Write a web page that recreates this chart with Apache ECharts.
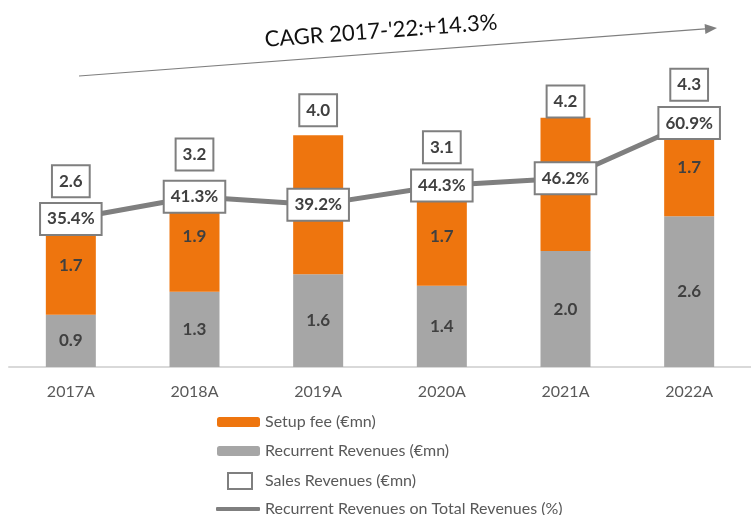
<!DOCTYPE html>
<html>
<head>
<meta charset="utf-8">
<script src="https://cdn.jsdelivr.net/npm/echarts@6/dist/echarts.min.js"></script>
<style>
  html, body { margin: 0; padding: 0; background: #fff; }
  #chart { width: 751px; height: 515px; }
</style>
</head>
<body>
<div id="chart"></div>
<script>
var years = ['2017A', '2018A', '2019A', '2020A', '2021A', '2022A'];
var recurrent = [0.9, 1.3, 1.6, 1.4, 2.0, 2.6];
var setupFee = [1.7, 1.9, 2.4, 1.7, 2.3, 1.7];
var salesTotal = [2.6, 3.2, 4.0, 3.1, 4.2, 4.3];
var recurrentShare = [35.4, 41.3, 39.2, 44.3, 46.2, 60.9];
var cagrText = "CAGR 2017-'22:+14.3%";

// how far above each stack the total box sits (px), to dodge the line labels
var totalLift = [35, 27, 25, 40, 22, 33];

var dom = document.getElementById('chart');
var myChart = echarts.init(dom);

var font = 'Lato';
var boxLabel = {
    show: true,
    position: 'inside',
    fontFamily: font,
    fontSize: 17,
    fontWeight: 'bold',
    color: '#404040',
    backgroundColor: '#fff',
    borderColor: '#7f7f7f',
    borderWidth: 2,
    padding: [7, 6, 6, 6]
};

var option = {
    animation: false,
    grid: {
        left: 9,
        right: -14,
        top: 25,
        bottom: 148
    },
    legend: [
        {
            orient: 'vertical',
            left: 217,
            top: 414,
            padding: 0,
            itemWidth: 43,
            itemHeight: 10,
            itemGap: 13,
            textStyle: { fontFamily: font, fontSize: 16, color: '#595959' },
            data: ['Setup fee (€mn)', 'Recurrent Revenues (€mn)']
        },
        {
            left: 227,
            top: 472,
            padding: 0,
            itemWidth: 24,
            itemHeight: 16,
            textStyle: { fontFamily: font, fontSize: 16, color: '#595959', padding: [0, 0, 0, 8] },
            data: [{
                name: 'Sales Revenues (€mn)',
                icon: 'rect',
                itemStyle: { color: '#fff', borderColor: '#7f7f7f', borderWidth: 2 }
            }]
        },
        {
            left: 216,
            top: 501,
            padding: 0,
            itemWidth: 44,
            itemHeight: 4,
            textStyle: { fontFamily: font, fontSize: 16, color: '#595959' },
            data: [{
                name: 'Recurrent Revenues on Total Revenues (%)',
                icon: 'roundRect',
                itemStyle: { color: '#7f7f7f' }
            }]
        }
    ],
    xAxis: {
        type: 'category',
        data: years,
        axisTick: { show: false },
        axisLine: { lineStyle: { color: '#d9d9d9', width: 2 } },
        axisLabel: { fontFamily: font, fontSize: 16, color: '#595959', margin: 17 }
    },
    yAxis: [
        { type: 'value', min: 0, max: 5.9, show: false, splitLine: { show: false } },
        { type: 'value', min: -4, max: 87, show: false, splitLine: { show: false } }
    ],
    graphic: [
        {
            type: 'line',
            shape: { x1: 79, y1: 76, x2: 705, y2: 28.9 },
            style: { stroke: '#7f7f7f', lineWidth: 1.2 }
        },
        {
            type: 'polygon',
            shape: { points: [[717, 28], [705.4, 33.9], [704.6, 23.9]] },
            style: { fill: '#7f7f7f' }
        },
        {
            type: 'text',
            x: 381,
            y: 31,
            rotation: 0.075,
            style: {
                text: cagrText,
                fontFamily: font,
                fontSize: 22,
                fill: '#111',
                align: 'center',
                verticalAlign: 'middle'
            }
        }
    ],
    series: [
        {
            name: 'Recurrent Revenues (€mn)',
            type: 'bar',
            stack: 'rev',
            barWidth: 50,
            data: recurrent,
            itemStyle: { color: '#a6a6a6' },
            label: {
                show: true,
                position: 'inside',
                fontFamily: font,
                fontSize: 17,
                fontWeight: 'bold',
                color: '#404040',
                formatter: function (p) { return p.value.toFixed(1); }
            }
        },
        {
            name: 'Setup fee (€mn)',
            type: 'bar',
            stack: 'rev',
            barWidth: 50,
            data: setupFee,
            itemStyle: { color: '#ee750e' },
            label: {
                show: true,
                position: 'inside',
                fontFamily: font,
                fontSize: 17,
                fontWeight: 'bold',
                color: '#404040',
                formatter: function (p) { return p.value.toFixed(1); }
            }
        },
        {
            name: 'Recurrent Revenues on Total Revenues (%)',
            type: 'line',
            yAxisIndex: 1,
            data: recurrentShare,
            symbol: 'circle',
            symbolSize: 0,
            lineStyle: { color: '#7f7f7f', width: 5 },
            itemStyle: { color: '#7f7f7f' },
            z: 5,
            label: Object.assign({}, boxLabel, {
                formatter: function (p) { return p.value.toFixed(1) + '%'; }
            })
        },
        {
            name: 'Sales Revenues (€mn)',
            type: 'scatter',
            symbolSize: 0,
            itemStyle: { color: '#fff', borderColor: '#7f7f7f', borderWidth: 2, opacity: 1 },
            z: 6,
            data: salesTotal.map(function (v, i) {
                return { value: [years[i], v], label: { offset: [0, -totalLift[i]] } };
            }),
            label: Object.assign({}, boxLabel, {
                formatter: function (p) { return p.value[1].toFixed(1); }
            })
        }
    ]
};

if (option && typeof option === 'object') {
    myChart.setOption(option, true);
}
</script>
</body>
</html>
